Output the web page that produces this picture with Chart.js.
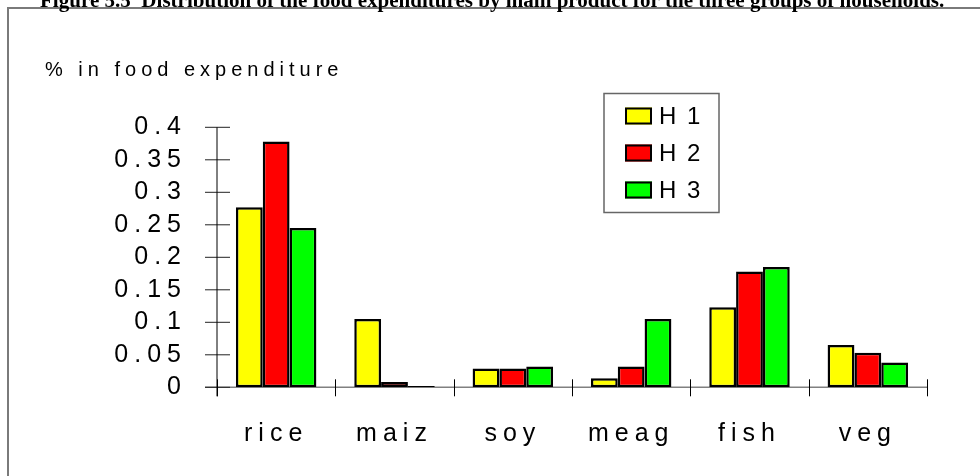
<!DOCTYPE html>
<html><head><meta charset="utf-8">
<script src="https://cdn.jsdelivr.net/npm/chart.js@4/dist/chart.umd.min.js"></script>
<style>html,body{margin:0;padding:0;background:#fff;overflow:hidden}canvas{display:block}</style>
</head><body>
<canvas id="c" width="980" height="476"></canvas>
<script>
const titleText = 'Figure 5.5  Distribution of the food expenditures by main product for the three groups of households.';
const yAxisTitle = '% in food expenditure';
const categories = ['rice', 'maiz', 'soy', 'meag', 'fish', 'veg'];
const seriesNames = ['H 1', 'H 2', 'H 3'];
const seriesColors = ['#ffff00', '#ff0000', '#00ff00'];
const h1 = [0.277, 0.105, 0.029, 0.014, 0.123, 0.065];
const h2 = [0.378, 0.008, 0.029, 0.032, 0.178, 0.053];
const h3 = [0.245, 0.002, 0.032, 0.105, 0.185, 0.038];
const yTickLabels = ['0', '0.05', '0.1', '0.15', '0.2', '0.25', '0.3', '0.35', '0.4'];
const seriesValues = [h1, h2, h3];

const deco = {
  id: 'deco',
  beforeDraw(chart) {
    const ctx = chart.ctx;
    ctx.save();
    ctx.fillStyle = '#fff';
    ctx.fillRect(0, 0, chart.width, chart.height);
    // outer frame
    ctx.strokeStyle = '#7a7a7a';
    ctx.lineWidth = 2;
    ctx.beginPath();
    ctx.moveTo(8, chart.height + 5);
    ctx.lineTo(8, 8);
    ctx.lineTo(chart.width + 5, 8);
    ctx.stroke();
    // title (clipped at top)
    let size = 19;
    ctx.font = 'bold ' + size + 'px "Liberation Serif"';
    const w = ctx.measureText(titleText).width;
    size = size * 905 / w;
    ctx.font = 'bold ' + size + 'px "Liberation Serif"';
    ctx.fillStyle = '#000';
    ctx.textAlign = 'left';
    ctx.textBaseline = 'alphabetic';
    ctx.fillText(titleText, 40, 6.5);
    // y axis title
    ctx.font = '20px "Liberation Sans"';
    ctx.letterSpacing = '5px';
    ctx.fillText(yAxisTitle, 45, 76);
    ctx.restore();
    ctx.letterSpacing = '6px';
  },
  beforeDatasetsDraw(chart) {
    const ctx = chart.ctx;
    const xs = chart.scales.x, ys = chart.scales.y;
    const y0 = ys.getPixelForValue(0);
    ctx.save();
    // x axis line
    ctx.strokeStyle = '#808080';
    ctx.lineWidth = 1.5;
    ctx.beginPath();
    ctx.moveTo(xs.left - 12, y0);
    ctx.lineTo(xs.right, y0);
    ctx.stroke();
    // y tick marks (both sides of axis)
    ctx.strokeStyle = '#222';
    ctx.lineWidth = 1;
    ctx.beginPath();
    ys.ticks.forEach((t, i) => {
      const py = ys.getPixelForTick(i);
      ctx.moveTo(xs.left - 12, py);
      ctx.lineTo(xs.left + 13, py);
    });
    ctx.stroke();
    // y axis line
    ctx.strokeStyle = '#000';
    ctx.beginPath();
    ctx.moveTo(xs.left, ys.top);
    ctx.lineTo(xs.left, y0 + 9);
    ctx.stroke();
    // category boundary ticks
    ctx.beginPath();
    for (let i = 0; i <= categories.length; i++) {
      const px = Math.round(xs.getPixelForValue(i - 0.5)) + 0.5;
      ctx.moveTo(px, y0 - 8);
      ctx.lineTo(px, y0 + 9);
    }
    ctx.stroke();
    ctx.restore();
  },
  afterDraw(chart) {
    const ctx = chart.ctx;
    ctx.save();
    ctx.letterSpacing = '0px';
    ctx.strokeStyle = '#666';
    ctx.lineWidth = 1.5;
    ctx.strokeRect(604, 93.5, 115, 119);
    ctx.font = '24px "Liberation Sans"';
    ctx.textBaseline = 'middle';
    ctx.textAlign = 'left';
    chart.data.datasets.forEach((ds, i) => {
      const cy = 116 + i * 37;
      ctx.fillStyle = ds.backgroundColor;
      ctx.fillRect(625, cy - 8.5, 27, 17);
      ctx.strokeStyle = '#000';
      ctx.lineWidth = 2;
      ctx.strokeRect(626, cy - 7.5, 25, 15);
      ctx.fillStyle = '#000';
      ctx.letterSpacing = '2px';
      ctx.fillText(ds.label, 659, cy + 1);
    });
    ctx.restore();
  }
};

new Chart(document.getElementById('c'), {
  type: 'bar',
  data: {
    labels: categories,
    datasets: seriesNames.map((n, i) => ({
      label: n,
      data: seriesValues[i],
      backgroundColor: seriesColors[i],
      borderColor: '#000',
      borderWidth: 2.5,
      borderSkipped: false,
      categoryPercentage: 0.68,
      barPercentage: 1
    }))
  },
  options: {
    responsive: false,
    devicePixelRatio: 1,
    animation: false,
    layout: { padding: { left: 0, right: 53, top: 127.3, bottom: 28.7 } },
    plugins: { legend: { display: false }, tooltip: { enabled: false }, title: { display: false } },
    scales: {
      x: {
        grid: { display: false },
        border: { display: false },
        ticks: { color: '#000', padding: 24, autoSkip: false, maxRotation: 0, font: { family: 'Liberation Sans', size: 25 } },
        afterFit(s) { s.height = 60; }
      },
      y: {
        min: 0, max: 0.4,
        grid: { display: false },
        border: { display: false },
        ticks: {
          stepSize: 0.05,
          autoSkip: false,
          color: '#000',
          padding: 22,
          font: { family: 'Liberation Sans', size: 25 },
          callback: (v, i) => yTickLabels[i]
        },
        afterFit(s) { s.width = 217; }
      }
    }
  },
  plugins: [deco]
});
</script>
</body></html>
